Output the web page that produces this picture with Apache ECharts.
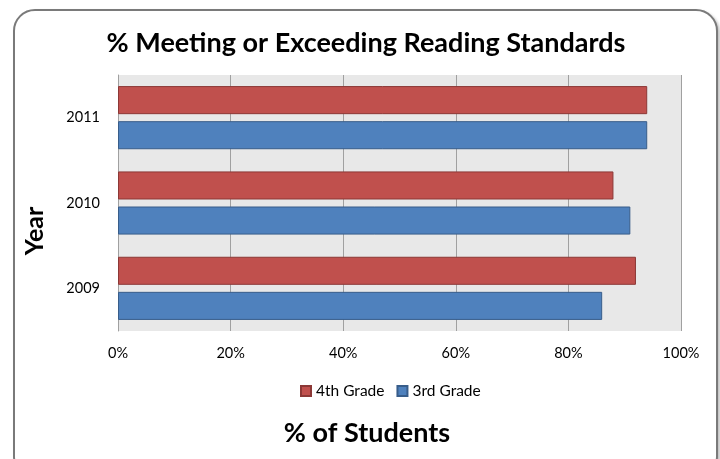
<!DOCTYPE html>
<html><head><meta charset="utf-8">
<script src="https://cdn.jsdelivr.net/npm/echarts@6/dist/echarts.min.js"></script>
<style>
html,body{margin:0;padding:0;background:#fff;width:720px;height:459px;overflow:hidden}
#frame{position:absolute;left:13px;top:9px;width:705px;height:470px;border:2px solid #7a7a7a;border-radius:22px;box-sizing:border-box;box-shadow:2px 2px 3px rgba(0,0,0,0.25);background:#fff}
#c{position:absolute;left:0;top:0;width:720px;height:459px}
</style></head>
<body>
<div id="frame"></div>
<div id="c"></div>
<script>
const years = ['2009', '2010', '2011'];
const grade4 = [92, 88, 94];
const grade3 = [86, 91, 94];
const xTicks = [0, 20, 40, 60, 80, 100];

const chart = echarts.init(document.getElementById('c'));
const font = 'Lato, "Open Sans", sans-serif';
chart.setOption({
  animation: false,
  legend: {
    data: ['4th Grade', '3rd Grade'],
    top: 378, left: 295,
    itemWidth: 10, itemHeight: 10, itemGap: 12,
    textStyle: {fontFamily: font, fontSize: 15.5, color: '#000', padding: [0, 0, 0, 0]},
    icon: 'rect'
  },
  graphic: [
    {type: 'text', x: 366, y: 43, style: {text: '% Meeting or Exceeding Reading Standards', fontFamily: font, fontWeight: 'bold', fontSize: 27, fill: '#000', align: 'center', verticalAlign: 'middle'}},
    {type: 'text', x: 367, y: 433, style: {text: '% of Students', fontFamily: font, fontWeight: 'bold', fontSize: 27, fill: '#000', align: 'center', verticalAlign: 'middle'}},
    {type: 'text', x: 35, y: 231, rotation: Math.PI / 2, style: {text: 'Year', fontFamily: font, fontWeight: 'bold', fontSize: 25, fill: '#000', align: 'center', verticalAlign: 'middle'}}
  ],
  grid: {left: 118, right: 39, top: 75, bottom: 128, show: true, backgroundColor: '#e8e8e8', borderWidth: 0},
  xAxis: {
    type: 'value', min: 0, max: 100, interval: 20,
    axisLabel: {formatter: v => v + '%', fontFamily: font, fontSize: 14.5, color: '#000', margin: 15},
    axisLine: {show: false}, axisTick: {show: false},
    splitLine: {show: true, lineStyle: {color: '#a0a0a0', width: 1}}
  },
  yAxis: {
    type: 'category', data: years,
    axisLabel: {fontFamily: font, fontSize: 14.5, color: '#000', margin: 18},
    axisLine: {show: true, lineStyle: {color: '#a0a0a0'}}, axisTick: {show: false}
  },
  series: [
    {name: '4th Grade', type: 'bar', data: grade4, barGap: '25%', barCategoryGap: '26%',
     itemStyle: {color: '#c0504d', borderColor: '#8c3836', borderWidth: 1}},
    {name: '3rd Grade', type: 'bar', data: grade3, barGap: '25%', barCategoryGap: '26%',
     itemStyle: {color: '#4f81bd', borderColor: '#385d8a', borderWidth: 1}}
  ]
});
</script>
</body></html>
